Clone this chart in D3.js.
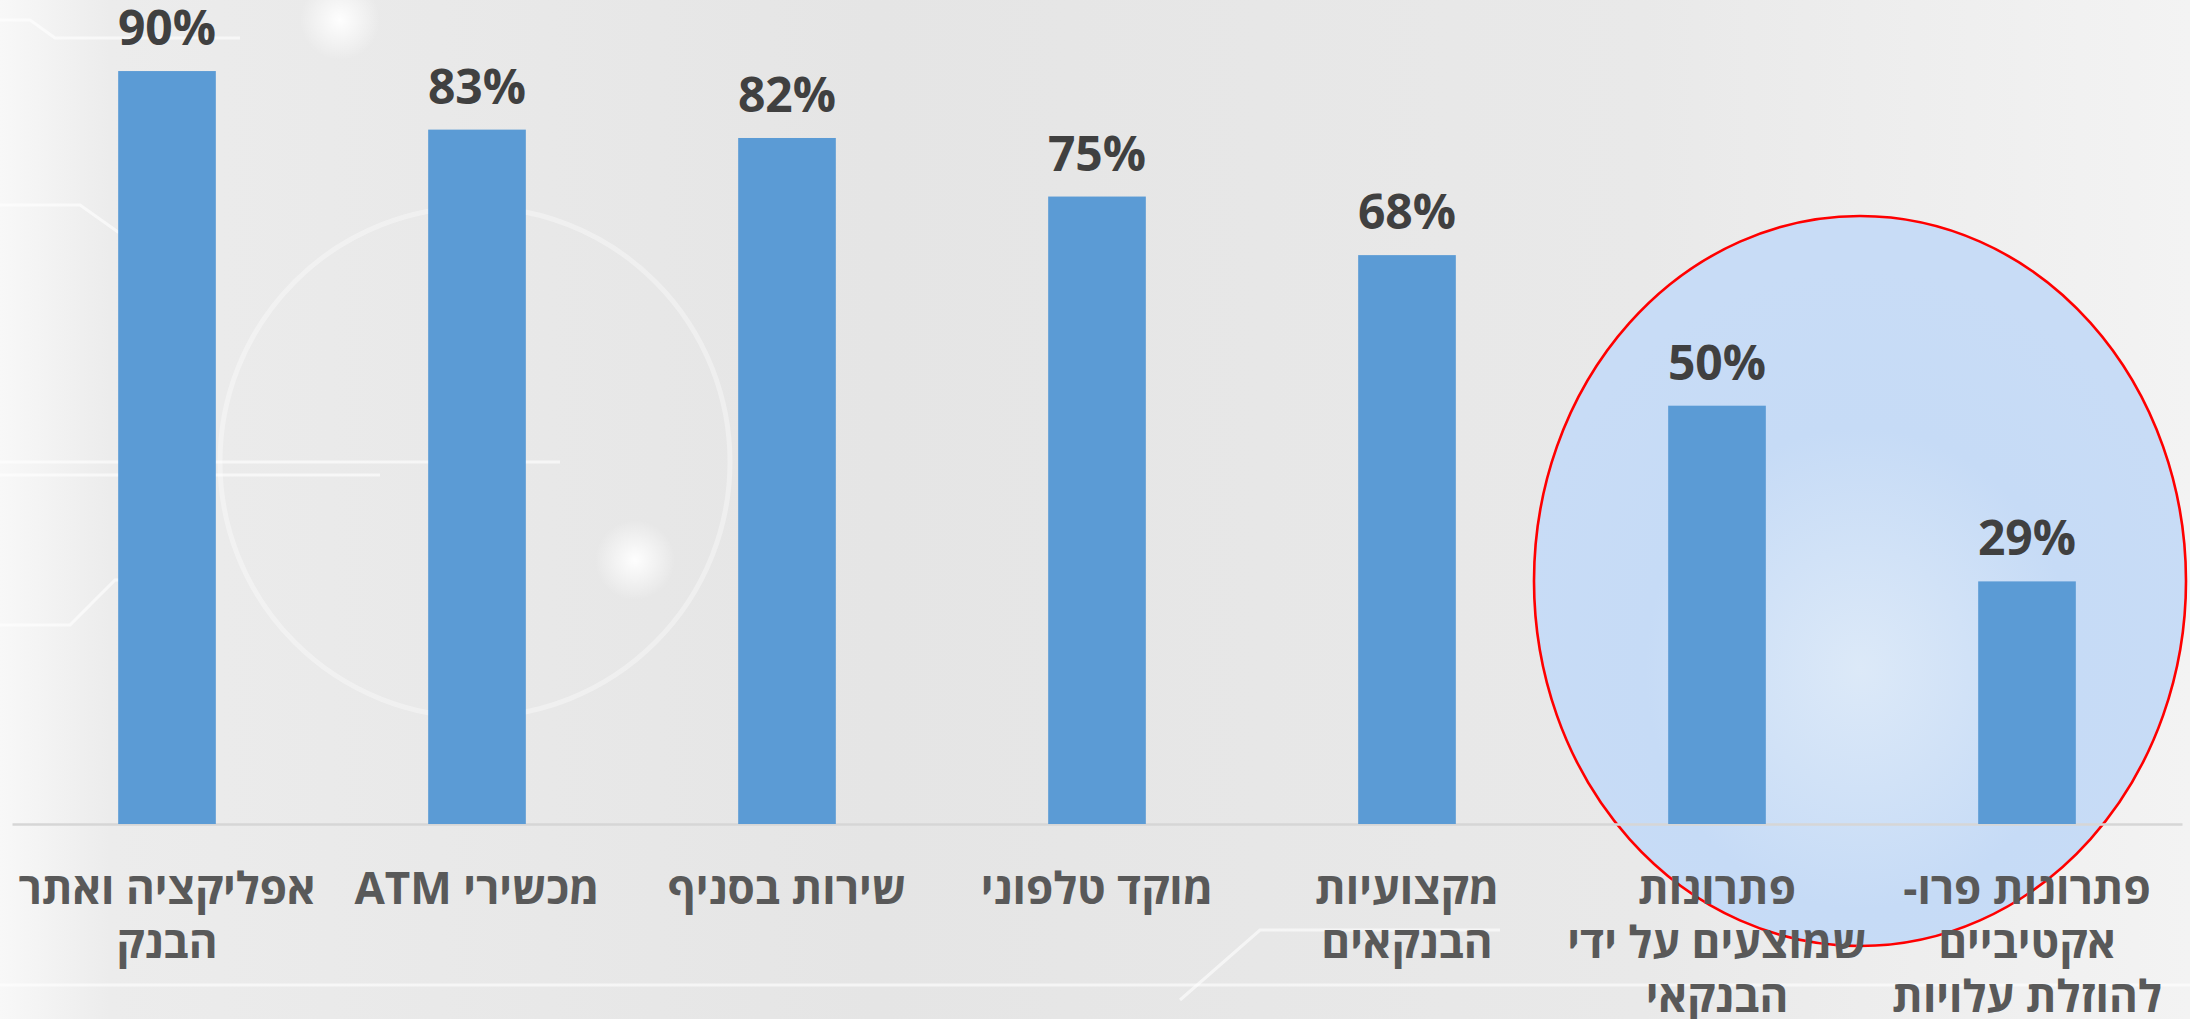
<!DOCTYPE html>
<html>
<head>
<meta charset="utf-8">
<script src="https://cdn.jsdelivr.net/npm/d3@7"></script>
<style>
  html, body { margin: 0; padding: 0; overflow: hidden; }
  svg { display: block; }
</style>
</head>
<body>
<svg id="chart"></svg>
<script>
// data
const categories = [
  ["אפליקציה ואתר", "הבנק"],
  ["מכשירי ATM"],
  ["שירות בסניף"],
  ["מוקד טלפוני"],
  ["מקצועיות", "הבנקאים"],
  ["פתרונות", "שמוצעים על ידי", "הבנקאי"],
  ["פתרונות פרו-", "אקטיביים", "להוזלת עלויות"]
];
const values = [0.90, 0.83, 0.82, 0.75, 0.68, 0.50, 0.29];
const highlighted = [5, 6]; // the two bars inside the red ellipse

const W = 2190, H = 1019;
const svg = d3.select("#chart").attr("width", W).attr("height", H);
const defs = svg.append("defs");

// background
const bg = defs.append("linearGradient").attr("id", "bg");
bg.selectAll("stop")
  .data([[0, "#f8f8f8"], [0.05, "#ececec"], [0.4, "#e5e5e5"], [0.75, "#e9e9e9"], [1, "#f3f3f3"]])
  .join("stop")
  .attr("offset", d => d[0]).attr("stop-color", d => d[1]);
svg.append("rect").attr("width", W).attr("height", H).attr("fill", "url(#bg)");

const glow = defs.append("radialGradient").attr("id", "glow");
glow.append("stop").attr("offset", 0).attr("stop-color", "#fff").attr("stop-opacity", 0.95);
glow.append("stop").attr("offset", 1).attr("stop-color", "#fff").attr("stop-opacity", 0);

const deco = svg.append("g").attr("fill", "none").attr("stroke", "#fff")
  .attr("stroke-opacity", 0.6).attr("stroke-width", 3);
deco.append("circle").attr("cx", 475).attr("cy", 462).attr("r", 255)
  .attr("stroke-opacity", 0.35).attr("stroke-width", 5);
[
  [[0, 20], [30, 20], [55, 38], [240, 38]],
  [[0, 205], [80, 205], [118, 232], [160, 232]],
  [[0, 462], [420, 462], [560, 462]],
  [[0, 475], [380, 475]],
  [[0, 625], [70, 625], [115, 580], [160, 580]],
  [[1180, 1000], [1260, 930], [1500, 930]],
  [[0, 985], [2190, 985]]
].forEach(p => deco.append("path").attr("d", d3.line()(p)));
[[340, 20, 40], [635, 560, 40]].forEach(([cx, cy, r]) =>
  svg.append("circle").attr("cx", cx).attr("cy", cy).attr("r", r).attr("fill", "url(#glow)"));

// scales
const x = d3.scaleBand()
  .domain(d3.range(values.length))
  .range([12, 2182])
  .paddingInner(0.685)
  .paddingOuter(0.3425);
const y = d3.scaleLinear().domain([0, 1]).range([824, -12.6]);

// highlight ellipse
const ell = defs.append("radialGradient").attr("id", "ell").attr("cx", "0.5").attr("cy", "0.62").attr("r", "0.55");
ell.selectAll("stop")
  .data([[0, "#dce9f8"], [0.6, "#c6dbf6"], [1, "#c8dcf6"]])
  .join("stop")
  .attr("offset", d => d[0]).attr("stop-color", d => d[1]);
const hx0 = x(highlighted[0]), hx1 = x(highlighted[1]) + x.bandwidth();
svg.append("ellipse")
  .attr("cx", (hx0 + hx1) / 2 - 12)
  .attr("cy", 581)
  .attr("rx", 326)
  .attr("ry", 365)
  .attr("fill", "url(#ell)")
  .attr("stroke", "#ff0000")
  .attr("stroke-width", 2.6);

// baseline
svg.append("g")
  .attr("transform", `translate(0,${y(0)})`)
  .call(d3.axisBottom(x).tickSize(0).tickFormat(""))
  .call(g => g.select(".domain").attr("stroke", "#d6d6d6").attr("stroke-width", 2.5));

// bars
svg.append("g")
  .selectAll("rect")
  .data(values)
  .join("rect")
  .attr("x", (d, i) => x(i))
  .attr("y", d => y(d))
  .attr("width", x.bandwidth())
  .attr("height", d => y(0) - y(d))
  .attr("fill", "#5b9bd5");

// value labels
svg.append("g")
  .selectAll("text")
  .data(values)
  .join("text")
  .attr("x", (d, i) => x(i) + x.bandwidth() / 2)
  .attr("y", d => y(d) - 26)
  .attr("text-anchor", "middle")
  .attr("font-family", "'Open Sans', 'DejaVu Sans', sans-serif")
  .attr("font-weight", 700)
  .attr("font-size", 48)
  .attr("fill", "#404040")
  .text(d => d3.format(".0%")(d));

// category labels
const cat = svg.append("g")
  .selectAll("text")
  .data(categories)
  .join("text")
  .attr("direction", "rtl")
  .attr("text-anchor", "middle")
  .attr("font-family", "'Open Sans', 'Liberation Sans', sans-serif")
  .attr("font-weight", 700)
  .attr("font-size", 44)
  .attr("fill", "#595959");
cat.each(function (lines, i) {
  const cx = x(i) + x.bandwidth() / 2;
  d3.select(this).selectAll("tspan")
    .data(lines)
    .join("tspan")
    .attr("x", cx)
    .attr("y", (d, j) => 904 + j * 54)
    .text(d => d);
});
</script>
</body>
</html>
